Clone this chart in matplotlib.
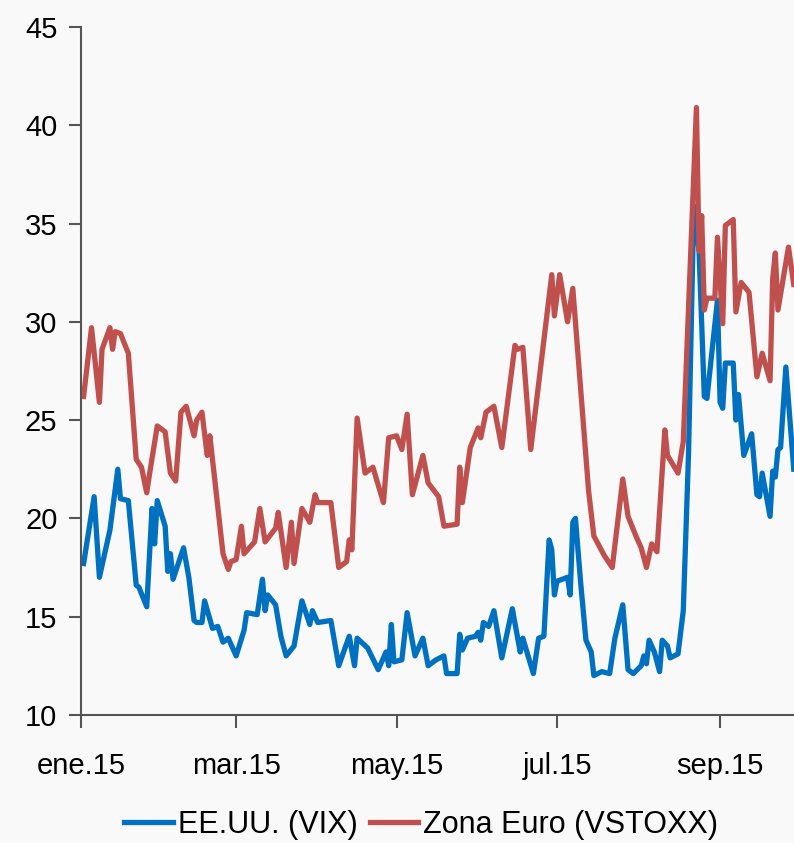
import pandas as pd
import matplotlib
matplotlib.use('Agg')
import matplotlib.pyplot as plt
from matplotlib import font_manager

# days counted from 1 Jan 2015
vstoxx_day = [1, 4, 7, 8, 11, 12, 13, 15, 18, 21, 23, 25, 26, 29, 32, 34, 36, 38, 40, 43, 44, 46,
              48, 49, 54, 56, 57, 59, 61, 62, 66, 68, 70, 74, 75, 78, 80, 81, 84, 87, 89, 90, 95,
              98, 101, 102, 103, 105, 108, 111, 115, 117, 120, 122, 124, 126, 130, 132, 136, 138,
              143, 144, 145, 148, 151, 152, 154, 157, 160, 165, 166, 168, 171, 179, 180, 182, 185,
              187, 193, 195, 199, 202, 206, 208, 211, 213, 215, 217, 219, 222, 223, 227, 229, 234,
              235, 236, 237, 238, 241, 242, 244, 245, 248, 249, 251, 254, 257, 259, 262, 263, 264,
              265, 269, 271]
vstoxx = [26.2, 29.7, 25.9, 28.6, 29.7, 28.6, 29.5, 29.4, 28.4, 23.0, 22.6, 21.3, 22.2, 24.7, 24.4,
          22.3, 21.9, 25.4, 25.7, 24.2, 25.0, 25.4, 23.2, 24.2, 18.2, 17.4, 17.8, 17.9, 19.6, 18.2,
          18.8, 20.5, 18.8, 19.5, 20.3, 17.5, 19.8, 17.7, 20.5, 19.8, 21.2, 20.8, 20.8, 17.5, 17.8,
          18.9, 18.4, 25.1, 22.3, 22.6, 20.8, 24.1, 24.2, 23.5, 25.3, 21.2, 23.2, 21.8, 21.1, 19.6,
          19.7, 22.6, 20.8, 23.6, 24.6, 24.1, 25.4, 25.7, 23.6, 28.8, 28.6, 28.7, 23.5, 32.4, 30.3,
          32.4, 30.0, 31.7, 21.4, 19.1, 18.1, 17.5, 22.0, 20.1, 19.1, 18.5, 17.5, 18.7, 18.3, 24.5,
          23.2, 22.3, 23.9, 40.9, 33.6, 35.4, 30.6, 31.2, 31.2, 34.3, 29.9, 34.9, 35.2, 30.5, 32.0,
          31.5, 27.2, 28.4, 27.0, 32.2, 33.5, 30.6, 33.8, 31.9]

vix_day = [1, 5, 7, 11, 14, 15, 18, 21, 22, 25, 27, 28, 29, 32, 33, 34, 35, 39, 41, 43, 44, 46, 47,
           50, 52, 54, 56, 59, 62, 63, 67, 69, 70, 71, 74, 76, 78, 81, 84, 87, 88, 90, 95, 98, 102,
           104, 105, 109, 113, 116, 117, 118, 119, 122, 124, 127, 130, 132, 135, 138, 139, 143, 144,
           145, 147, 150, 151, 152, 153, 155, 157, 160, 164, 167, 168, 172, 174, 176, 178, 179, 180,
           181, 185, 186, 187, 188, 190, 192, 194, 195, 198, 201, 203, 206, 208, 210, 213, 214, 215,
           216, 218, 220, 221, 223, 224, 227, 229, 231, 233, 235, 237, 238, 242, 243, 244, 245, 248,
           249, 250, 252, 255, 257, 258, 259, 262, 263, 264, 265, 266, 268, 271]
vix = [17.7, 21.1, 17.0, 19.4, 22.5, 21.0, 20.9, 16.6, 16.5, 15.5, 20.5, 18.7, 20.9, 19.6, 17.3,
       18.2, 16.9, 18.5, 17.0, 14.8, 14.7, 14.7, 15.8, 14.4, 14.5, 13.7, 13.9, 13.0, 14.3, 15.2,
       15.1, 16.9, 15.3, 16.1, 15.6, 14.0, 13.0, 13.5, 15.8, 14.6, 15.3, 14.7, 14.8, 12.5, 14.0,
       12.5, 13.9, 13.4, 12.3, 13.2, 12.5, 14.6, 12.7, 12.8, 15.2, 13.0, 13.9, 12.5, 12.8, 13.0,
       12.1, 12.1, 14.1, 13.3, 13.9, 14.0, 14.2, 13.8, 14.7, 14.5, 15.3, 12.9, 15.4, 13.2, 13.9,
       12.1, 13.9, 14.0, 18.9, 18.4, 16.1, 16.8, 17.0, 16.1, 19.8, 20.0, 16.7, 13.8, 13.2, 12.0,
       12.2, 12.1, 13.9, 15.6, 12.3, 12.1, 12.5, 13.0, 12.6, 13.8, 13.2, 12.2, 13.8, 13.5, 12.9,
       13.1, 15.3, 23.3, 35.9, 33.6, 26.2, 26.1, 31.1, 25.9, 25.6, 27.9, 27.9, 25.0, 26.3, 23.2,
       24.3, 21.2, 21.1, 22.3, 20.1, 22.4, 22.1, 23.5, 23.6, 27.7, 22.5]

tick_dates = ['2015-01-01', '2015-03-01', '2015-05-01', '2015-07-01', '2015-09-01']
tick_labels = ['ene.15', 'mar.15', 'may.15', 'jul.15', 'sep.15']

start = pd.Timestamp('2015-01-01')
vstoxx_dates = start + pd.to_timedelta(vstoxx_day, unit='D')
vix_dates = start + pd.to_timedelta(vix_day, unit='D')

avail = {f.name for f in font_manager.fontManager.ttflist}
fam = 'Liberation Sans Narrow' if 'Liberation Sans Narrow' in avail else 'Liberation Sans'
plt.rcParams['font.family'] = [fam, 'DejaVu Sans']

bg = '#f9f9f9'
fig = plt.figure(figsize=(7.94, 8.43), dpi=100, facecolor=bg)
ax = fig.add_axes([0.102, 0.152, 0.898, 0.816], facecolor=bg)

ax.plot(vix_dates, vix, color='#0070c0', lw=3.8, label='EE.UU. (VIX)', solid_joinstyle='round')
ax.plot(vstoxx_dates, vstoxx, color='#c0504d', lw=3.8, label='Zona Euro (VSTOXX)', solid_joinstyle='round')

ax.set_ylim(10, 45)
ax.set_yticks(range(10, 46, 5))
ax.set_xlim(start, start + pd.Timedelta(days=271.1))
ax.set_xticks(pd.to_datetime(tick_dates))
ax.set_xticklabels(tick_labels)

for s in ['top', 'right']:
    ax.spines[s].set_visible(False)
for s in ['left', 'bottom']:
    ax.spines[s].set_color('#555555')
    ax.spines[s].set_linewidth(1.5)
ax.tick_params(axis='y', length=9, width=1.5, color='#555555', labelsize=21, pad=8)
ax.tick_params(axis='x', length=9, width=1.5, color='#555555', labelsize=21, pad=18)

leg = ax.legend(loc='center', bbox_to_anchor=(0.477, -0.160), ncol=2, frameon=False,
                fontsize=22, handlelength=1.6, handletextpad=0.15, columnspacing=0.4,
                borderaxespad=0, borderpad=0)

fig.savefig('out.png', dpi=100, facecolor=bg)
